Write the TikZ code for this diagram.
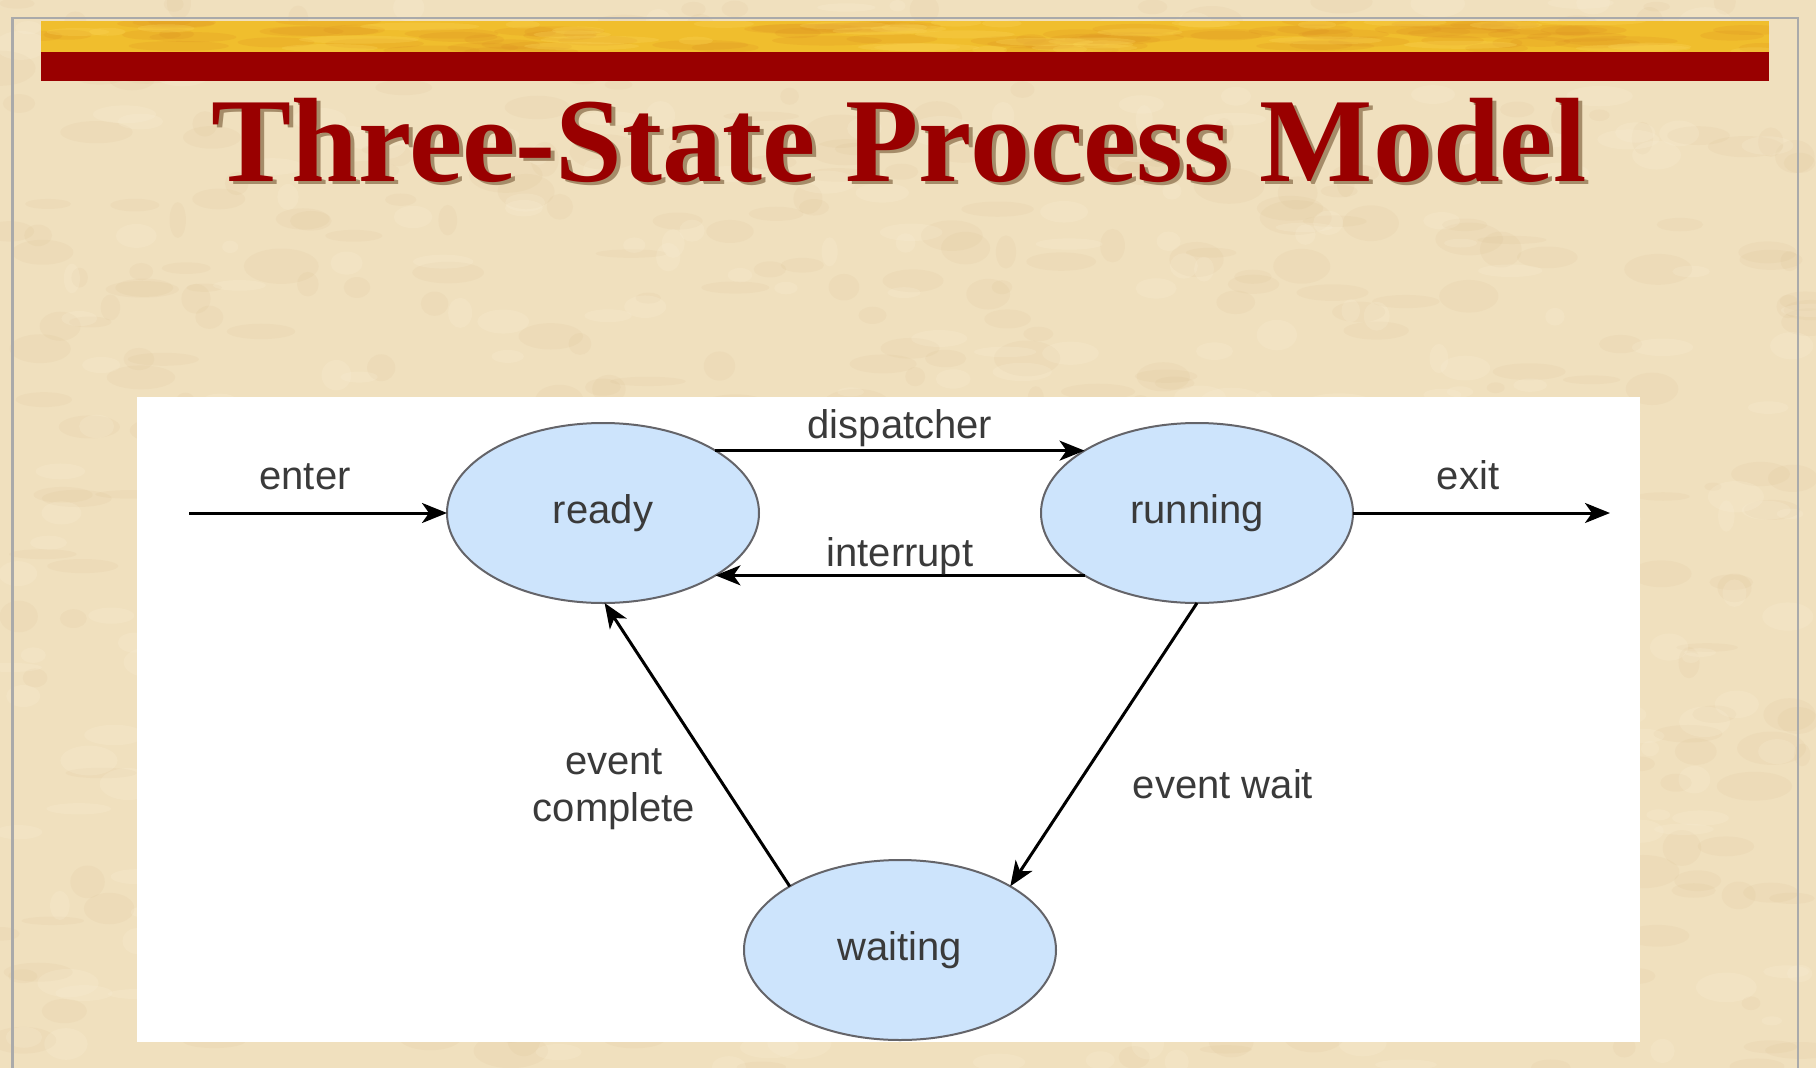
\documentclass[tikz,border=0pt]{standalone}
\usepackage{fontspec}
\setmainfont{Liberation Serif}
\newfontfamily\labelfont{Liberation Sans}
\usetikzlibrary{shapes.geometric,arrows.meta}

\definecolor{parchment}{RGB}{240,224,190}
\definecolor{parchdark}{RGB}{200,165,110}
\definecolor{parchlight}{RGB}{252,242,218}
\definecolor{bandgold}{RGB}{240,190,45}
\definecolor{bandorange}{RGB}{222,145,35}
\definecolor{bandlight}{RGB}{250,212,85}
\definecolor{bandred}{RGB}{153,0,0}
\definecolor{titleshade}{RGB}{165,140,105}
\definecolor{framegray}{RGB}{170,170,170}
\definecolor{statefill}{RGB}{205,228,252}
\definecolor{stategray}{RGB}{100,100,105}
\definecolor{labeltext}{RGB}{58,58,58}

\newcommand{\titlewords}{Three-State Process Model}

\begin{document}
\begin{tikzpicture}[x=1pt,y=-1pt,
  state/.style={ellipse, draw=stategray, line width=2pt, fill=statefill,
    minimum width=312pt, minimum height=180pt, inner sep=0pt, outer sep=0pt,
    font=\labelfont\fontsize{40}{44}\selectfont, text=labeltext},
  flow/.style={line width=3pt, draw=black,
    -{Stealth[length=25pt,width=20pt,inset=7pt]}},
  lbl/.style={font=\labelfont\fontsize{40}{44}\selectfont, text=labeltext,
    inner sep=0pt, anchor=base},
  titletext/.style={font=\bfseries\fontsize{120}{130}\selectfont,
    inner sep=0pt, anchor=base},
]
\useasboundingbox (0,0) rectangle (1816,1068);

% parchment background with fine mottling
\fill[parchment] (0,0) rectangle (1816,1068);
\pgfmathsetseed{11}
\foreach \i in {1,...,500}{
  \pgfmathsetmacro\px{rnd*1816}
  \pgfmathsetmacro\py{rnd*1068}
  \pgfmathsetmacro\ra{8+rnd*30}
  \pgfmathsetmacro\rb{4+rnd*14}
  \fill[parchdark, opacity=0.07] (\px,\py) ellipse ({\ra} and {\rb});
}
\foreach \i in {1,...,350}{
  \pgfmathsetmacro\px{rnd*1816}
  \pgfmathsetmacro\py{rnd*1068}
  \pgfmathsetmacro\ra{8+rnd*26}
  \pgfmathsetmacro\rb{4+rnd*12}
  \fill[parchlight, opacity=0.18] (\px,\py) ellipse ({\ra} and {\rb});
}

% outer frame
\draw[framegray, line width=2.5pt] (12.6,1068) -- (12.6,18) -- (1798,18) -- (1798,1068);

% golden band with streaks
\begin{scope}
  \clip (41,21) rectangle (1769,52);
  \fill[bandgold] (41,21) rectangle (1769,52);
  \foreach \i in {1,...,80}{
    \pgfmathsetmacro\px{41+rnd*1728}
    \pgfmathsetmacro\py{21+rnd*31}
    \pgfmathsetmacro\ra{15+rnd*45}
    \fill[bandorange, opacity=0.22] (\px,\py) ellipse ({\ra} and 5);
  }
  \foreach \i in {1,...,40}{
    \pgfmathsetmacro\px{41+rnd*1728}
    \pgfmathsetmacro\py{21+rnd*31}
    \pgfmathsetmacro\ra{15+rnd*45}
    \fill[bandlight, opacity=0.3] (\px,\py) ellipse ({\ra} and 4);
  }
\end{scope}
% dark red band
\fill[bandred] (41,52) rectangle (1769,80.5);

% title, its shadow set in the same box
\node[titletext] (title) at (899,181)
  {\makebox[0pt][l]{\hspace{4pt}\raisebox{-3.5pt}{\color{titleshade}\titlewords}}\color{bandred}\titlewords};

% white diagram panel
\fill[white] (137,397) rectangle (1640,1042);

% states
\node[state] (ready) at (603,513) {ready};
\node[state] (running) at (1197,513) {running};
\node[state] (waiting) at (900,950) {waiting};

% free ends of entry and exit
\coordinate (start) at (189,513);
\coordinate (finish) at (1610,513);

% transitions
\draw[flow] (start) -- (ready.west);
\draw[flow] (running.east) -- (finish);
\draw[flow] (ready.29) -- (running.151);
\draw[flow] (running.209) -- (ready.331);
\draw[flow] (waiting.150) -- (ready.271);
\draw[flow] (running.270) -- (waiting.30);

% transition labels
\node[lbl] (lenter) at (305,489) {enter};
\node[lbl] (lexit) at (1468,489) {exit};
\node[lbl] (ldisp) at (900,438) {dispatcher};
\node[lbl] (lint) at (900,566) {interrupt};
\node[lbl] (lcompa) at (614,774) {event};
\node[lbl] (lcompb) at (614,821) {complete};
\node[lbl] (lwait) at (1223,798) {event wait};
\end{tikzpicture}
\end{document}
